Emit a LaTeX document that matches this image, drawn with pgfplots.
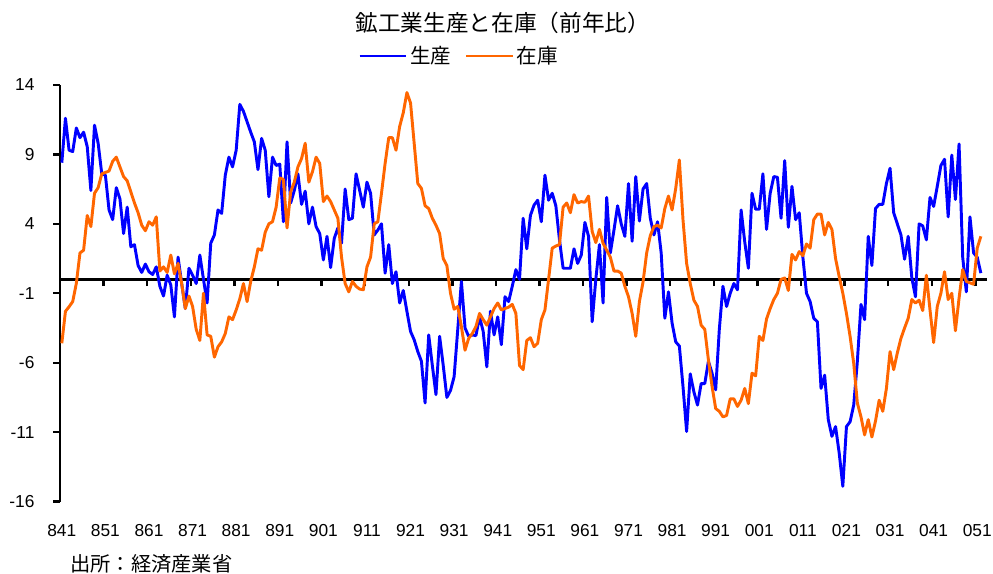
\documentclass[border=0pt]{standalone}
\usepackage{fontspec}
\setmainfont{Liberation Sans}
\newfontfamily\jp{Noto Sans CJK JP}
\usepackage{pgfplots}
\usepackage{pgfplotstable}
\pgfplotsset{compat=1.18}
\definecolor{prodblue}{RGB}{0,0,255}
\definecolor{invorange}{RGB}{255,102,0}

\pgfplotstableread{
m p s
0 8.4 -4.6
1 11.6 -2.3
2 9.3 -1.97
3 9.2 -1.6
4 10.9 -0.28
5 10.2 1.9
6 10.6 2.1
7 9.55 4.6
8 6.4 3.8
9 11.1 6.2
10 9.8 6.6
11 7.6 7.6
12 7.5 7.7
13 5.0 7.8
14 4.3 8.5
15 6.6 8.8
16 5.8 8.1
17 3.3 7.4
18 5.2 7.1
19 2.35 6.3
20 2.5 5.5
21 1.0 4.8
22 0.5 3.9
23 1.1 3.5
24 0.55 4.15
25 0.35 3.9
26 0.9 4.5
27 -0.5 0.6
28 -1.2 0.9
29 0.3 0.5
30 -0.4 1.75
31 -2.7 0.4
32 1.6 1.15
33 -0.3 -0.3
34 -2.1 -2.1
35 0.8 -1.2
36 0.3 -1.95
37 -0.3 -3.6
38 1.75 -4.4
39 0 -1.0
40 -1.7 -4.0
41 2.6 -4.1
42 3.2 -5.6
43 5.0 -4.85
44 4.75 -4.5
45 7.5 -3.9
46 8.8 -2.7
47 8.1 -2.9
48 9.3 -2.2
49 12.6 -1.4
50 12.1 -0.3
51 11.35 -1.6
52 10.6 -0.15
53 9.9 0.9
54 7.9 2.2
55 10.15 2.1
56 9.3 3.4
57 5.95 4.0
58 8.8 4.15
59 8.2 5.2
60 8.3 7.3
61 4.15 7.2
62 9.9 3.7
63 5.5 6.3
64 6.4 7.0
65 7.6 8.1
66 5.4 8.7
67 6.35 9.8
68 4.0 7.0
69 5.2 7.75
70 3.8 8.8
71 3.3 8.35
72 1.4 5.6
73 3.1 6.0
74 0.85 5.6
75 2.95 5.0
76 3.7 4.4
77 2.6 1.6
78 6.5 -0.3
79 4.3 -0.9
80 4.4 -0.15
81 7.6 -0.5
82 6.4 -0.7
83 5.2 -0.75
84 7.0 0.9
85 6.2 1.6
86 3.2 4.0
87 3.55 4.15
88 4.0 6.2
89 0.45 8.35
90 2.5 10.2
91 -0.3 10.2
92 0.55 9.3
93 -1.7 11.0
94 -0.8 12.0
95 -2.3 13.45
96 -3.75 12.7
97 -4.35 9.8
98 -5.2 6.9
99 -5.9 6.55
100 -8.9 5.3
101 -4.0 5.1
102 -6.2 4.4
103 -8.3 3.9
104 -4.1 3.3
105 -6.2 1.5
106 -8.5 1.0
107 -8.0 -1.0
108 -7.0 -2.15
109 -3.6 -1.95
110 -0.15 -3.4
111 -3.5 -5.1
112 -4.1 -4.25
113 -4.0 -3.9
114 -4.05 -3.4
115 -2.7 -2.45
116 -3.75 -2.9
117 -6.3 -3.3
118 -2.3 -2.7
119 -4.0 -2.1
120 -2.7 -1.7
121 -4.7 -2.2
122 -1.25 -2.1
123 -1.6 -2.0
124 -0.5 -1.8
125 0.7 -2.45
126 0 -6.2
127 4.4 -6.5
128 2.2 -4.4
129 4.6 -4.2
130 5.35 -4.85
131 5.7 -4.6
132 4.15 -2.9
133 7.5 -2.2
134 5.7 0
135 6.2 2.25
136 5.3 2.4
137 2.85 2.5
138 0.8 5.2
139 0.8 5.5
140 0.8 4.8
141 2.2 6.1
142 1.15 5.5
143 1.75 5.6
144 4.1 5.55
145 3.1 6.0
146 -3.05 3.45
147 0 2.65
148 2.5 3.6
149 -1.7 2.6
150 5.9 2.1
151 1.9 1.6
152 3.55 0.6
153 5.3 0.6
154 4.0 0.45
155 3.1 -0.5
156 6.9 -1.25
157 2.75 -2.45
158 7.4 -4.1
159 4.2 -1.6
160 6.5 -0.2
161 6.9 1.9
162 4.4 3.15
163 3.2 3.8
164 4.15 3.9
165 1.9 3.7
166 -2.8 5.1
167 -0.9 6.0
168 -3.15 5.0
169 -4.5 6.55
170 -4.8 8.6
171 -7.7 4.3
172 -10.95 1.15
173 -6.8 -0.3
174 -8.1 -1.5
175 -9.05 -1.95
176 -7.5 -3.3
177 -7.5 -3.6
178 -5.9 -5.8
179 -6.75 -7.7
180 -7.95 -9.3
181 -3.6 -9.5
182 -0.5 -9.9
183 -1.95 -9.8
184 -1.0 -8.6
185 -0.3 -8.6
186 -0.75 -9.15
187 5.0 -8.7
188 2.7 -7.85
189 0.8 -8.95
190 6.2 -6.75
191 5.05 -6.95
192 5.05 -4.1
193 7.6 -4.4
194 3.6 -2.85
195 6.2 -2.1
196 7.4 -1.45
197 7.35 -1.0
198 4.4 0
199 8.55 0.1
200 3.75 -0.8
201 6.7 1.8
202 4.3 1.4
203 4.8 2.0
204 1.6 1.7
205 -1.0 2.55
206 -1.6 2.25
207 -2.8 4.3
208 -3.05 4.7
209 -7.85 4.7
210 -6.9 3.2
211 -10.1 4.1
212 -11.3 3.6
213 -10.6 1.5
214 -12.5 0.2
215 -14.9 -1.0
216 -10.6 -2.45
217 -10.25 -4.1
218 -9.05 -6.05
219 -5.9 -8.9
220 -1.8 -9.9
221 -2.9 -11.2
222 3.1 -10.1
223 1.0 -11.35
224 5.1 -10.2
225 5.4 -8.7
226 5.4 -9.5
227 6.9 -7.85
228 8.0 -5.2
229 4.8 -6.5
230 4.0 -5.3
231 3.2 -4.25
232 1.45 -3.5
233 3.1 -2.8
234 0.1 -1.45
235 -1.25 -1.7
236 4.0 -1.5
237 3.85 -2.25
238 2.85 0.3
239 5.9 -2.2
240 5.25 -4.55
241 6.7 -1.95
242 8.2 -1.0
243 8.65 0.55
244 4.5 -1.45
245 8.95 -1.0
246 5.75 -3.7
247 9.75 -1.35
248 1.6 0.7
249 -0.9 -0.15
250 4.5 -0.25
251 1.9 -0.35
252 1.6 2.25
253 0.45 3.1
}\data

\begin{document}
\begin{tikzpicture}
\useasboundingbox (-45pt,-54.3pt) rectangle (699.75pt,376.2pt);
% zero line with year ticks
\begin{axis}[
  at={(0pt,0pt)}, anchor=south west,
  scale only axis, width=695pt, height=312.5pt,
  xmin=-0.5, xmax=254.6, ymin=-16, ymax=14,
  axis x line*=middle, axis y line=none,
  x axis line style={line width=2.2pt, black},
  xtick={11.5,23.5,...,251.5},
  xticklabels={},
  xtick style={line width=1.8pt, black},
  tick align=outside, major tick length=5pt,
]
\end{axis}
\begin{axis}[
  at={(0pt,0pt)}, anchor=south west,
  scale only axis, width=695pt, height=312.5pt,
  xmin=-0.5, xmax=254.6, ymin=-16, ymax=14,
  axis y line*=left, axis x line*=bottom,
  x axis line style={draw=none},
  y axis line style={line width=2.2pt, black},
  ytick={-16,-11,-6,-1,4,9,14},
  yticklabels={-16,-11,-6,-1,4,9,14},
  ytick style={line width=1.8pt, black},
  tick align=outside, major tick length=5pt,
  xtick={0,12,...,252},
  xticklabels={841,851,861,871,881,891,901,911,921,931,941,951,961,971,981,991,001,011,021,031,041,051},
  xtick style={draw=none},
  tick label style={font=\fontsize{13}{15}\selectfont},
  xticklabel style={anchor=north, inner sep=0pt, yshift=-12pt},
  yticklabel style={anchor=east, inner sep=0pt, xshift=-14pt},
  title={\jp 鉱工業生産と在庫（前年比）},
  title style={at={(0.478,1.13)}, anchor=center, inner sep=0pt, font=\fontsize{17}{19}\selectfont},
  legend style={at={(0.431,1.0694)}, anchor=center, draw=none, fill=none,
    font=\jp\fontsize{15.4}{17}\selectfont, inner sep=0pt,
    /tikz/every even column/.append style={column sep=8pt}},
  legend columns=2,
  legend image code/.code={\draw[#1, line width=2.2pt] (0pt,0pt) -- (35pt,0pt);},
]
\addplot[prodblue, line width=2.2pt, line join=round] table[x=m,y=p]{\data};
\addlegendentry{生産}
\addplot[invorange, line width=2.2pt, line join=round] table[x=m,y=s]{\data};
\addlegendentry{在庫}
\end{axis}
\node[anchor=west, inner sep=0pt, font=\jp\fontsize{15.2}{17}\selectfont] at (7.5pt,-46.8pt) {出所：経済産業省};
\end{tikzpicture}
\end{document}
